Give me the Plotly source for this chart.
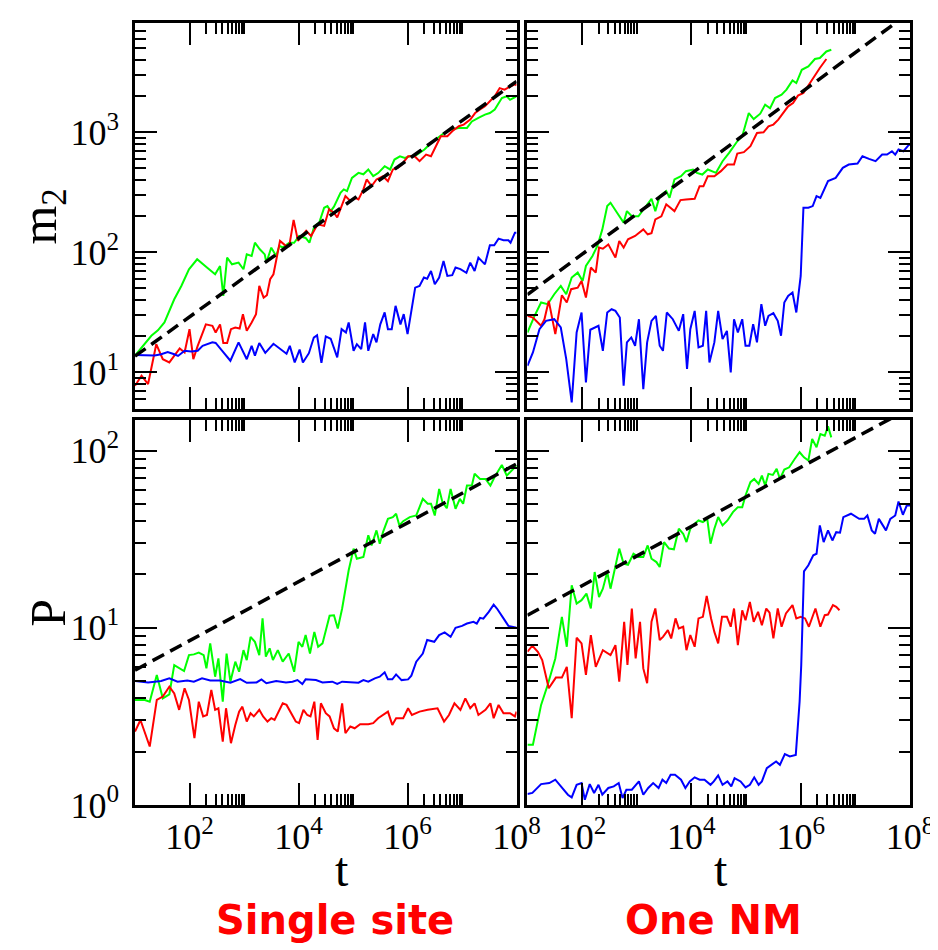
import numpy as np
import plotly.graph_objects as go

# all values are log10 of t and of the quantity
# ---- Single site, m2
ss_m2_green_lt = [1.0, 1.15, 1.3, 1.42, 1.54, 1.72, 1.85, 1.99, 2.14, 2.32, 2.47, 2.56, 2.62, 2.69, 2.78, 2.9, 2.99, 3.05, 3.14, 3.2, 3.29, 3.38, 3.41, 3.5, 3.59, 3.65, 3.71, 3.83, 3.92, 4.01, 4.13, 4.2, 4.29, 4.38, 4.47, 4.53, 4.59, 4.65, 4.71, 4.77, 4.83, 4.89, 4.98, 5.1, 5.19, 5.28, 5.37, 5.46, 5.58, 5.68, 5.76, 5.86, 5.95, 6.04, 6.13, 6.22, 6.31, 6.43, 6.55, 6.67, 6.79, 6.94, 7.09, 7.18, 7.3, 7.42, 7.51, 7.6, 7.73, 7.82, 7.88, 8.0]
ss_m2_green_ly = [1.139, 1.22, 1.305, 1.35, 1.416, 1.609, 1.72, 1.859, 1.942, 1.873, 1.817, 1.886, 1.637, 1.956, 1.90, 1.914, 1.859, 1.983, 1.97, 2.08, 2.025, 1.983, 1.914, 2.039, 1.97, 2.053, 2.04, 2.08, 2.08, 2.136, 2.12, 2.08, 2.219, 2.247, 2.371, 2.385, 2.343, 2.38, 2.44, 2.496, 2.524, 2.51, 2.62, 2.662, 2.65, 2.69, 2.634, 2.66, 2.717, 2.69, 2.773, 2.80, 2.786, 2.80, 2.80, 2.83, 2.856, 2.911, 2.953, 2.994, 3.022, 3.036, 3.036, 3.09, 3.12, 3.147, 3.16, 3.19, 3.285, 3.30, 3.27, 3.30]

ss_m2_red_lt = [1.0, 1.12, 1.24, 1.39, 1.51, 1.63, 1.82, 1.91, 2.0, 2.07, 2.15, 2.21, 2.3, 2.42, 2.48, 2.56, 2.62, 2.69, 2.76, 2.84, 2.92, 2.98, 3.05, 3.14, 3.22, 3.28, 3.36, 3.42, 3.48, 3.54, 3.6, 3.66, 3.75, 3.83, 3.91, 3.99, 4.14, 4.23, 4.35, 4.47, 4.56, 4.65, 4.71, 4.8, 4.86, 4.95, 5.04, 5.1, 5.19, 5.25, 5.34, 5.43, 5.55, 5.64, 5.73, 5.82, 5.89, 6.01, 6.13, 6.22, 6.34, 6.43, 6.52, 6.61, 6.73, 6.82, 6.94, 7.03, 7.15, 7.24, 7.33, 7.42, 7.51, 7.6, 7.69, 7.78, 7.88, 7.97, 8.0]
ss_m2_red_ly = [0.889, 0.972, 0.903, 1.235, 1.11, 1.083, 1.2, 1.166, 1.36, 1.11, 1.221, 1.29, 1.40, 1.388, 1.332, 1.40, 1.245, 1.245, 1.36, 1.374, 1.366, 1.485, 1.346, 1.416, 1.485, 1.72, 1.623, 1.643, 1.776, 1.817, 1.97, 2.095, 2.06, 2.053, 2.27, 2.095, 2.18, 2.136, 2.233, 2.22, 2.358, 2.33, 2.29, 2.40, 2.468, 2.427, 2.454, 2.44, 2.524, 2.607, 2.551, 2.607, 2.634, 2.593, 2.69, 2.704, 2.73, 2.80, 2.80, 2.759, 2.814, 2.80, 2.884, 2.967, 2.967, 3.008, 3.05, 3.064, 3.105, 3.16, 3.19, 3.216, 3.258, 3.30, 3.368, 3.355, 3.38, 3.40, 3.39]

ss_m2_blue_lt = [1.0, 1.18, 1.36, 1.48, 1.6, 1.72, 1.79, 1.91, 2.03, 2.15, 2.24, 2.42, 2.48, 2.6, 2.75, 2.9, 3.05, 3.14, 3.2, 3.28, 3.39, 3.54, 3.66, 3.78, 3.84, 3.93, 4.02, 4.08, 4.19, 4.28, 4.34, 4.42, 4.5, 4.59, 4.71, 4.79, 4.87, 4.92, 5.01, 5.07, 5.15, 5.22, 5.28, 5.37, 5.43, 5.5, 5.58, 5.64, 5.71, 5.78, 5.87, 5.93, 6.0, 6.14, 6.22, 6.3, 6.36, 6.43, 6.5, 6.58, 6.66, 6.73, 6.82, 6.88, 6.97, 7.08, 7.15, 7.23, 7.3, 7.42, 7.51, 7.59, 7.67, 7.76, 7.85, 7.89, 7.97, 8.0]
ss_m2_blue_ly = [1.144, 1.14, 1.14, 1.151, 1.17, 1.151, 1.137, 1.18, 1.175, 1.18, 1.221, 1.25, 1.245, 1.18, 1.097, 1.25, 1.11, 1.221, 1.14, 1.245, 1.163, 1.238, 1.2, 1.155, 1.221, 1.083, 1.19, 1.083, 1.16, 1.29, 1.31, 1.08, 1.30, 1.28, 1.125, 1.36, 1.332, 1.416, 1.18, 1.235, 1.194, 1.416, 1.18, 1.319, 1.25, 1.40, 1.50, 1.36, 1.36, 1.554, 1.40, 1.485, 1.319, 1.706, 1.72, 1.79, 1.78, 1.845, 1.734, 1.79, 1.928, 1.803, 1.81, 1.873, 1.86, 1.83, 1.914, 1.845, 1.956, 1.90, 2.058, 2.058, 2.114, 2.10, 2.10, 2.08, 2.164, 2.164]

ss_m2_fit_lt = [1.0, 8.0]
ss_m2_fit_ly = [1.135, 3.424]

# ---- One NM, m2
nm_m2_green_lt = [1.0, 1.13, 1.25, 1.37, 1.49, 1.61, 1.71, 1.81, 1.92, 2.01, 2.07, 2.19, 2.28, 2.37, 2.46, 2.52, 2.64, 2.76, 2.82, 2.91, 3.03, 3.15, 3.27, 3.34, 3.42, 3.54, 3.6, 3.69, 3.81, 3.9, 4.03, 4.1, 4.2, 4.3, 4.45, 4.57, 4.69, 4.84, 4.93, 5.05, 5.14, 5.26, 5.35, 5.44, 5.53, 5.65, 5.74, 5.85, 5.92, 6.02, 6.14, 6.26, 6.35, 6.47, 6.56]
nm_m2_green_ly = [1.332, 1.471, 1.582, 1.568, 1.651, 1.72, 1.651, 1.79, 1.831, 1.762, 1.886, 1.97, 2.053, 2.191, 2.385, 2.413, 2.33, 2.247, 2.343, 2.30, 2.30, 2.371, 2.446, 2.343, 2.468, 2.51, 2.454, 2.607, 2.634, 2.676, 2.69, 2.662, 2.648, 2.69, 2.662, 2.759, 2.828, 2.925, 2.967, 3.16, 3.11, 3.155, 3.23, 3.20, 3.285, 3.313, 3.355, 3.432, 3.41, 3.52, 3.548, 3.61, 3.618, 3.673, 3.687]

nm_m2_red_lt = [1.0, 1.1, 1.25, 1.31, 1.39, 1.51, 1.63, 1.72, 1.8, 1.92, 1.99, 2.07, 2.16, 2.25, 2.31, 2.38, 2.48, 2.61, 2.68, 2.76, 2.84, 2.97, 3.12, 3.2, 3.27, 3.34, 3.45, 3.54, 3.69, 3.8, 3.9, 4.06, 4.15, 4.22, 4.3, 4.42, 4.54, 4.66, 4.78, 4.84, 4.96, 5.08, 5.2, 5.32, 5.41, 5.5, 5.59, 5.68, 5.77, 5.86, 5.95, 6.05, 6.17, 6.26, 6.35, 6.47]
nm_m2_red_ly = [1.471, 1.457, 1.388, 1.44, 1.596, 1.319, 1.643, 1.582, 1.693, 1.706, 1.762, 1.623, 1.873, 1.831, 2.039, 2.03, 2.066, 1.956, 2.094, 2.039, 2.108, 2.136, 2.191, 2.15, 2.16, 2.274, 2.30, 2.40, 2.343, 2.435, 2.44, 2.446, 2.551, 2.551, 2.634, 2.634, 2.676, 2.731, 2.731, 2.823, 2.834, 2.884, 2.994, 3.0, 3.05, 3.064, 3.105, 3.16, 3.216, 3.244, 3.305, 3.327, 3.41, 3.48, 3.535, 3.61]

nm_m2_blue_lt = [1.0, 1.1, 1.22, 1.34, 1.49, 1.61, 1.71, 1.81, 1.9, 1.99, 2.07, 2.15, 2.3, 2.38, 2.46, 2.54, 2.61, 2.69, 2.76, 2.82, 2.9, 2.97, 3.04, 3.12, 3.19, 3.27, 3.35, 3.42, 3.48, 3.55, 3.66, 3.77, 3.85, 3.92, 3.98, 4.06, 4.13, 4.21, 4.27, 4.33, 4.42, 4.49, 4.57, 4.65, 4.72, 4.78, 4.85, 4.93, 4.99, 5.06, 5.13, 5.2, 5.28, 5.35, 5.41, 5.5, 5.58, 5.64, 5.7, 5.77, 5.85, 5.92, 6.0, 6.05, 6.14, 6.22, 6.29, 6.36, 6.5, 6.64, 6.77, 6.88, 7.04, 7.13, 7.25, 7.37, 7.49, 7.58, 7.67, 7.73, 7.79, 7.88, 7.97, 8.0]
nm_m2_blue_ly = [1.055, 1.166, 1.36, 1.429, 1.443, 1.374, 1.111, 0.75, 1.332, 1.499, 0.917, 1.355, 1.388, 1.18, 1.499, 1.526, 1.512, 1.457, 0.889, 1.25, 1.291, 1.222, 1.443, 0.861, 1.25, 1.429, 1.471, 1.222, 1.18, 1.499, 1.443, 1.346, 1.485, 1.028, 1.36, 1.512, 1.208, 1.222, 1.512, 1.083, 1.25, 1.512, 1.277, 1.346, 1.0, 1.443, 1.332, 1.443, 1.222, 1.222, 1.402, 1.25, 1.568, 1.388, 1.471, 1.493, 1.43, 1.305, 1.582, 1.637, 1.665, 1.499, 1.803, 2.371, 2.371, 2.385, 2.468, 2.454, 2.593, 2.62, 2.704, 2.731, 2.74, 2.8, 2.778, 2.759, 2.814, 2.814, 2.842, 2.814, 2.856, 2.842, 2.89, 2.90]

nm_m2_fit_lt = [1.0, 8.0]
nm_m2_fit_ly = [1.648, 4.0]

# ---- Single site, P
ss_p_green_lt = [1.0, 1.18, 1.27, 1.4, 1.51, 1.63, 1.72, 1.81, 1.9, 1.99, 2.08, 2.17, 2.26, 2.31, 2.38, 2.47, 2.53, 2.61, 2.68, 2.75, 2.84, 2.91, 2.99, 3.05, 3.12, 3.2, 3.28, 3.34, 3.4, 3.47, 3.53, 3.62, 3.71, 3.82, 3.92, 4.0, 4.07, 4.13, 4.21, 4.29, 4.36, 4.44, 4.5, 4.57, 4.65, 4.72, 4.8, 4.86, 4.92, 5.01, 5.07, 5.19, 5.28, 5.34, 5.43, 5.49, 5.55, 5.64, 5.73, 5.79, 5.85, 5.92, 6.04, 6.16, 6.28, 6.37, 6.43, 6.5, 6.58, 6.64, 6.72, 6.79, 6.88, 6.96, 7.02, 7.09, 7.18, 7.23, 7.33, 7.43, 7.52, 7.61, 7.73, 7.82, 7.91, 8.0]
ss_p_green_ly = [0.593, 0.593, 0.583, 0.734, 0.602, 0.625, 0.79, 0.771, 0.756, 0.846, 0.85, 0.86, 0.846, 0.771, 0.912, 0.724, 0.827, 0.583, 0.855, 0.696, 0.809, 0.752, 0.874, 0.818, 0.949, 0.921, 0.846, 1.053, 0.837, 0.884, 0.818, 0.874, 0.809, 0.855, 0.752, 0.921, 0.893, 0.959, 0.855, 0.977, 0.893, 0.912, 0.977, 1.068, 1.071, 0.996, 1.109, 1.221, 1.325, 1.447, 1.39, 1.40, 1.522, 1.465, 1.55, 1.475, 1.54, 1.615, 1.625, 1.644, 1.578, 1.602, 1.625, 1.634, 1.728, 1.70, 1.70, 1.634, 1.784, 1.709, 1.675, 1.784, 1.672, 1.728, 1.70, 1.803, 1.803, 1.869, 1.84, 1.84, 1.803, 1.859, 1.919, 1.859, 1.887, 1.916]

ss_p_red_lt = [1.0, 1.1, 1.27, 1.4, 1.51, 1.63, 1.72, 1.81, 1.91, 1.99, 2.09, 2.17, 2.25, 2.32, 2.4, 2.47, 2.53, 2.61, 2.67, 2.76, 2.84, 2.91, 2.97, 3.05, 3.12, 3.18, 3.28, 3.35, 3.43, 3.5, 3.56, 3.64, 3.71, 3.78, 3.86, 3.95, 4.01, 4.09, 4.16, 4.22, 4.29, 4.35, 4.41, 4.5, 4.57, 4.65, 4.72, 4.8, 4.86, 4.95, 5.03, 5.13, 5.28, 5.37, 5.46, 5.58, 5.64, 5.72, 5.79, 5.92, 6.01, 6.08, 6.22, 6.37, 6.55, 6.67, 6.76, 6.86, 6.97, 7.06, 7.15, 7.23, 7.3, 7.43, 7.52, 7.58, 7.67, 7.76, 7.88, 7.97, 8.0]
ss_p_red_ly = [0.415, 0.48, 0.33, 0.593, 0.612, 0.668, 0.63, 0.537, 0.659, 0.593, 0.377, 0.583, 0.50, 0.508, 0.649, 0.537, 0.546, 0.358, 0.546, 0.349, 0.452, 0.527, 0.555, 0.471, 0.518, 0.50, 0.537, 0.50, 0.471, 0.49, 0.48, 0.531, 0.574, 0.565, 0.518, 0.471, 0.462, 0.537, 0.508, 0.50, 0.583, 0.368, 0.574, 0.518, 0.50, 0.433, 0.415, 0.574, 0.405, 0.443, 0.433, 0.456, 0.456, 0.462, 0.49, 0.518, 0.527, 0.452, 0.49, 0.49, 0.546, 0.508, 0.527, 0.537, 0.546, 0.471, 0.508, 0.574, 0.537, 0.602, 0.546, 0.574, 0.508, 0.537, 0.574, 0.49, 0.565, 0.518, 0.518, 0.50, 0.527]

ss_p_blue_lt = [1.0, 1.24, 1.48, 1.63, 1.78, 1.96, 2.08, 2.23, 2.38, 2.56, 2.75, 2.93, 3.05, 3.23, 3.32, 3.41, 3.59, 3.77, 3.89, 3.98, 4.07, 4.13, 4.32, 4.44, 4.62, 4.71, 4.8, 4.98, 5.1, 5.19, 5.28, 5.4, 5.49, 5.58, 5.64, 5.72, 5.79, 5.89, 6.01, 6.07, 6.16, 6.28, 6.36, 6.49, 6.58, 6.68, 6.79, 6.88, 7.0, 7.09, 7.21, 7.27, 7.33, 7.39, 7.49, 7.58, 7.64, 7.76, 7.85, 8.0]
ss_p_blue_ly = [0.70, 0.692, 0.70, 0.715, 0.696, 0.703, 0.696, 0.715, 0.703, 0.703, 0.69, 0.711, 0.69, 0.692, 0.709, 0.687, 0.70, 0.692, 0.696, 0.705, 0.683, 0.709, 0.705, 0.692, 0.696, 0.683, 0.696, 0.692, 0.69, 0.705, 0.696, 0.715, 0.724, 0.749, 0.709, 0.709, 0.737, 0.705, 0.709, 0.73, 0.809, 0.855, 0.931, 0.921, 0.959, 0.974, 0.949, 1.0, 1.011, 1.024, 1.034, 1.024, 1.056, 1.052, 1.09, 1.131, 1.109, 1.053, 1.011, 1.0]

ss_p_fit_lt = [1.0, 8.0]
ss_p_fit_ly = [0.761, 1.925]

# ---- One NM, P
nm_p_green_lt = [1.0, 1.1, 1.25, 1.37, 1.51, 1.63, 1.72, 1.81, 1.9, 1.99, 2.08, 2.16, 2.23, 2.31, 2.38, 2.46, 2.52, 2.6, 2.68, 2.76, 2.84, 2.94, 3.03, 3.12, 3.2, 3.27, 3.36, 3.42, 3.5, 3.59, 3.68, 3.77, 3.85, 3.91, 3.98, 4.06, 4.13, 4.21, 4.29, 4.35, 4.42, 4.49, 4.57, 4.66, 4.76, 4.85, 4.93, 4.99, 5.08, 5.15, 5.23, 5.29, 5.35, 5.41, 5.49, 5.56, 5.62, 5.7, 5.79, 5.89, 5.98, 6.06, 6.14, 6.21, 6.29, 6.36, 6.44, 6.5, 6.56]
nm_p_green_ly = [0.34, 0.34, 0.565, 0.677, 0.827, 1.062, 0.893, 1.24, 1.137, 1.156, 1.193, 1.109, 1.315, 1.174, 1.221, 1.315, 1.221, 1.343, 1.447, 1.362, 1.356, 1.418, 1.40, 1.40, 1.465, 1.39, 1.371, 1.343, 1.484, 1.447, 1.443, 1.559, 1.531, 1.484, 1.559, 1.587, 1.606, 1.597, 1.615, 1.475, 1.559, 1.625, 1.578, 1.606, 1.653, 1.681, 1.681, 1.747, 1.822, 1.84, 1.812, 1.859, 1.803, 1.869, 1.863, 1.897, 1.84, 1.893, 1.906, 1.953, 1.991, 1.962, 1.944, 2.066, 2.019, 2.094, 2.084, 2.137, 2.075]

nm_p_red_lt = [1.0, 1.09, 1.19, 1.27, 1.39, 1.52, 1.63, 1.72, 1.81, 1.9, 1.99, 2.07, 2.16, 2.25, 2.38, 2.52, 2.61, 2.68, 2.77, 2.83, 2.91, 2.98, 3.06, 3.12, 3.19, 3.27, 3.34, 3.42, 3.48, 3.57, 3.63, 3.71, 3.77, 3.85, 3.91, 3.98, 4.06, 4.13, 4.21, 4.28, 4.36, 4.42, 4.49, 4.56, 4.65, 4.72, 4.78, 4.85, 4.93, 4.99, 5.07, 5.14, 5.22, 5.29, 5.37, 5.43, 5.5, 5.58, 5.65, 5.73, 5.85, 5.92, 6.0, 6.08, 6.15, 6.27, 6.36, 6.44, 6.5, 6.59, 6.65, 6.71]
nm_p_red_ly = [0.865, 0.899, 0.865, 0.818, 0.659, 0.719, 0.719, 0.78, 0.49, 0.944, 0.912, 0.734, 0.959, 0.78, 0.874, 0.846, 0.902, 0.696, 1.034, 0.79, 1.109, 0.827, 1.034, 0.771, 0.687, 1.034, 1.109, 0.931, 0.949, 0.987, 0.94, 1.053, 0.996, 1.006, 0.874, 0.959, 0.893, 1.053, 1.062, 1.18, 1.053, 0.977, 0.912, 1.062, 1.062, 1.006, 1.109, 0.902, 1.099, 1.043, 1.146, 1.034, 1.09, 1.015, 1.109, 1.086, 0.94, 1.109, 1.006, 1.081, 1.128, 1.053, 1.062, 1.053, 1.006, 1.109, 1.006, 1.071, 1.075, 1.128, 1.118, 1.099]

nm_p_blue_lt = [1.0, 1.09, 1.25, 1.4, 1.51, 1.61, 1.74, 1.81, 1.9, 1.99, 2.05, 2.14, 2.22, 2.3, 2.37, 2.48, 2.58, 2.67, 2.74, 2.81, 2.91, 3.04, 3.12, 3.21, 3.3, 3.4, 3.47, 3.54, 3.62, 3.7, 3.81, 3.89, 3.97, 4.06, 4.15, 4.24, 4.35, 4.41, 4.49, 4.57, 4.66, 4.73, 4.79, 4.9, 4.99, 5.07, 5.15, 5.23, 5.29, 5.38, 5.46, 5.55, 5.62, 5.71, 5.8, 5.91, 5.98, 6.01, 6.06, 6.14, 6.23, 6.29, 6.35, 6.42, 6.5, 6.58, 6.65, 6.72, 6.78, 6.92, 7.07, 7.16, 7.22, 7.3, 7.36, 7.43, 7.56, 7.64, 7.73, 7.79, 7.87, 7.94, 8.0]
nm_p_blue_ly = [0.062, 0.068, 0.118, 0.124, 0.143, 0.105, 0.058, 0.043, 0.114, 0.124, 0.03, 0.118, 0.068, 0.114, 0.058, 0.096, 0.105, 0.124, 0.039, 0.086, 0.086, 0.133, 0.058, 0.096, 0.124, 0.096, 0.143, 0.124, 0.171, 0.171, 0.143, 0.096, 0.133, 0.156, 0.143, 0.143, 0.114, 0.133, 0.167, 0.114, 0.133, 0.105, 0.152, 0.133, 0.099, 0.114, 0.156, 0.114, 0.133, 0.208, 0.227, 0.246, 0.227, 0.287, 0.274, 0.283, 0.583, 0.79, 1.319, 1.353, 1.409, 1.418, 1.578, 1.484, 1.55, 1.493, 1.54, 1.537, 1.625, 1.644, 1.615, 1.615, 1.634, 1.55, 1.531, 1.615, 1.55, 1.615, 1.634, 1.713, 1.638, 1.69, 1.69]

nm_p_fit_lt = [1.0, 8.0]
nm_p_fit_ly = [1.071, 2.24]

# axis ticks
x_major = [1e2, 1e4, 1e6, 1e8]
x_major_text = ["10<sup>2</sup>", "10<sup>4</sup>", "10<sup>6</sup>", "10<sup>8</sup>"]
x_minor = [k * 10 ** e for e in (2, 4, 6) for k in range(2, 11)]
m2_major = [1e1, 1e2, 1e3]
m2_major_text = ["10<sup>1</sup>", "10<sup>2</sup>", "10<sup>3</sup>"]
p_major = [1e0, 1e1, 1e2]
p_major_text = ["10<sup>0</sup>", "10<sup>1</sup>", "10<sup>2</sup>"]
y_minor = [k * 10 ** e for e in range(0, 4) for k in range(2, 10)]

GREEN = "#00ff00"
RED = "#ff0000"
BLUE = "#0000ff"

fig = go.Figure()


def add_line(axes, lt, ly, color, dash=None, width=2):
    fig.add_trace(go.Scatter(
        x=10 ** np.array(lt), y=10 ** np.array(ly),
        mode="lines",
        line=dict(color=color, width=width, dash=dash),
        xaxis="x" + axes, yaxis="y" + axes,
        showlegend=False, hoverinfo="skip"
    ))


# panel 1: single site m2, panel 2: one NM m2, panel 3: single site P, panel 4: one NM P
add_line("", ss_m2_green_lt, ss_m2_green_ly, GREEN)
add_line("", ss_m2_red_lt, ss_m2_red_ly, RED)
add_line("", ss_m2_blue_lt, ss_m2_blue_ly, BLUE)
add_line("", ss_m2_fit_lt, ss_m2_fit_ly, "black", dash="13px,7px", width=3.5)

add_line("2", nm_m2_green_lt, nm_m2_green_ly, GREEN)
add_line("2", nm_m2_red_lt, nm_m2_red_ly, RED)
add_line("2", nm_m2_blue_lt, nm_m2_blue_ly, BLUE)
add_line("2", nm_m2_fit_lt, nm_m2_fit_ly, "black", dash="13px,7px", width=3.5)

add_line("3", ss_p_green_lt, ss_p_green_ly, GREEN)
add_line("3", ss_p_red_lt, ss_p_red_ly, RED)
add_line("3", ss_p_blue_lt, ss_p_blue_ly, BLUE)
add_line("3", ss_p_fit_lt, ss_p_fit_ly, "black", dash="13px,7px", width=3.5)

add_line("4", nm_p_green_lt, nm_p_green_ly, GREEN)
add_line("4", nm_p_red_lt, nm_p_red_ly, RED)
add_line("4", nm_p_blue_lt, nm_p_blue_ly, BLUE)
add_line("4", nm_p_fit_lt, nm_p_fit_ly, "black", dash="13px,7px", width=3.5)

TICKFONT = dict(family="Liberation Serif", size=36, color="black")


def axis(domain, anchor, rng, major, major_text, minor, labels, standoff):
    return dict(
        type="log", domain=domain, anchor=anchor, range=rng,
        showline=True, linecolor="black", linewidth=2.5, mirror="allticks",
        ticks="inside", ticklen=22, tickwidth=2, tickcolor="black",
        tickvals=major, ticktext=major_text, showticklabels=labels,
        tickfont=TICKFONT, ticklabelstandoff=standoff,
        showgrid=False, zeroline=False,
        minor=dict(ticks="inside", ticklen=11, tickwidth=1.5, tickcolor="black",
                   tickvals=minor, showgrid=False),
    )


XL = [0, 386 / 784]
XR = [397 / 784, 1]
YT = [397 / 784, 1]
YB = [0, 386 / 784]

fig.update_layout(
    width=938, height=950,
    margin=dict(l=127, r=27, t=13, b=153),
    paper_bgcolor="white", plot_bgcolor="white",
    xaxis=axis(XL, "y", [1, 8], x_major, x_major_text, x_minor, False, -2),
    yaxis=axis(YT, "x", [0.695, 3.91], m2_major, m2_major_text, y_minor, True, 6),
    xaxis2=axis(XR, "y2", [1, 8], x_major, x_major_text, x_minor, False, -2),
    yaxis2=axis(YT, "x2", [0.695, 3.91], m2_major, m2_major_text, y_minor, False, 6),
    xaxis3=axis(XL, "y3", [1, 8], x_major, x_major_text, x_minor, True, -2),
    yaxis3=axis(YB, "x3", [0, 2.173], p_major, p_major_text, y_minor, True, 6),
    xaxis4=axis(XR, "y4", [1, 8], x_major, x_major_text, x_minor, True, -2),
    yaxis4=axis(YB, "x4", [0, 2.173], p_major, p_major_text, y_minor, False, 6),
)

# axis titles and panel names
LABELFONT = dict(family="Liberation Serif", size=50, color="black")
TFONT = dict(family="Liberation Serif", size=48, color="black")
NAMEFONT = dict(family="DejaVu Sans", size=40, color="#ff0000", weight="bold")


def note(text, x, y, font, angle=0):
    fig.add_annotation(text=text, x=x, y=y, xref="paper", yref="paper",
                       xanchor="center", yanchor="middle", textangle=angle,
                       showarrow=False, font=font)


note("m<sub>2</sub>", -0.1186, 0.7526, LABELFONT, -90)
note("P", -0.1122, 0.246, LABELFONT, -90)
note("t", 0.2666, -0.083, TFONT)
note("t", 0.7564, -0.083, TFONT)
note("Single site", 0.258, -0.1467, NAMEFONT)
note("One NM", 0.746, -0.1467, NAMEFONT)

fig.write_html("out.html")
